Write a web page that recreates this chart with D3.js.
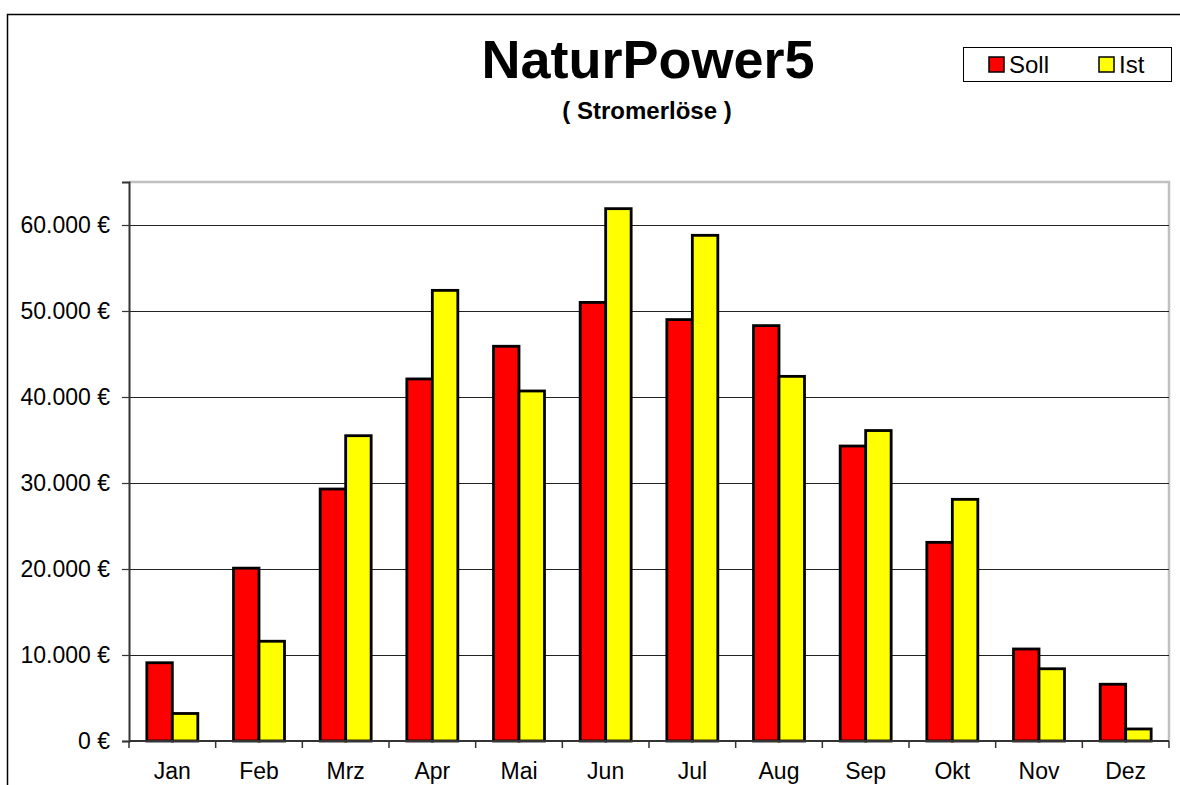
<!DOCTYPE html>
<html>
<head>
<meta charset="utf-8">
<script src="https://cdn.jsdelivr.net/npm/d3@7"></script>
<style>
  html, body { margin: 0; padding: 0; background: #fff; overflow: hidden; }
  svg { display: block; font-family: 'Liberation Sans', Arial, sans-serif; }
</style>
</head>
<body>
<script>
// Monatswerte Stromerloese (Euro)
var months = ['Jan', 'Feb', 'Mrz', 'Apr', 'Mai', 'Jun', 'Jul', 'Aug', 'Sep', 'Okt', 'Nov', 'Dez'];
var soll = [9100, 20100, 29300, 42100, 45900, 51000, 49000, 48300, 34300, 23100, 10700, 6600];
var ist = [3200, 11600, 35500, 52400, 40700, 61900, 58800, 42400, 36100, 28100, 8400, 1400];
var seriesNames = ['Soll', 'Ist'];
var seriesColors = ['#ff0000', '#ffff00'];
var yTicks = [0, 10000, 20000, 30000, 40000, 50000, 60000];

(function() {
  var w = 1180;
  var h = 785;
  var plot = { left: 129, right: 1169, top: 182, bottom: 741 };

  var de = d3.formatLocale({
    decimal: ',',
    thousands: '.',
    grouping: [3],
    currency: ['', ' €']
  });
  var fmt = de.format('$,.0f');

  var rows = months.map((m, i) => ({ month: m, values: [soll[i], ist[i]] }));

  var svg = d3.select('body')
    .append('svg')
    .attr('width', w)
    .attr('height', h);

  // outer chart frame
  svg.append('rect')
    .attr('x', 7.5)
    .attr('y', 14.5)
    .attr('width', 1200)
    .attr('height', 800)
    .attr('fill', 'none')
    .attr('stroke', '#000')
    .attr('stroke-width', 1.5);

  var xScale = d3.scaleBand()
    .domain(months)
    .range([plot.left, plot.right])
    .paddingInner(0)
    .paddingOuter(0);

  var xInner = d3.scaleBand()
    .domain(seriesNames)
    .range([0, xScale.bandwidth()])
    .paddingInner(0)
    .paddingOuter(0.7);

  var yScale = d3.scaleLinear()
    .domain([0, 65000])
    .range([plot.bottom, plot.top]);

  // plot area border (top/right grey)
  svg.append('path')
    .attr('d', `M${plot.left},${plot.top}H${plot.right}V${plot.bottom}`)
    .attr('fill', 'none')
    .attr('stroke', '#c0c0c0')
    .attr('stroke-width', 2.5);

  // gridlines
  svg.append('g')
    .selectAll('line')
    .data(yTicks.filter(d => d > 0))
    .enter()
    .append('line')
    .attr('x1', plot.left)
    .attr('x2', plot.right)
    .attr('y1', d => Math.round(yScale(d)) + 0.5)
    .attr('y2', d => Math.round(yScale(d)) + 0.5)
    .attr('stroke', '#222')
    .attr('stroke-width', 1.2);

  // y axis
  var yAxis = svg.append('g')
    .attr('transform', `translate(${plot.left},0)`)
    .call(d3.axisLeft(yScale).tickValues(yTicks).tickFormat(fmt).tickSize(7).tickPadding(12));
  yAxis.select('.domain').attr('stroke', '#333').attr('stroke-width', 2);
  yAxis.selectAll('.tick line').attr('stroke', '#333').attr('stroke-width', 1.2);
  yAxis.selectAll('.tick text')
    .attr('font-size', '23px')
    .attr('font-family', "'Liberation Sans', Arial, sans-serif")
    .attr('fill', '#000');

  // bars
  var groups = svg.append('g')
    .selectAll('g')
    .data(rows)
    .enter()
    .append('g')
    .attr('transform', d => `translate(${xScale(d.month)},0)`);

  groups.selectAll('rect')
    .data(d => d.values.map((v, i) => ({ key: seriesNames[i], value: v, color: seriesColors[i] })))
    .enter()
    .append('rect')
    .attr('x', d => xInner(d.key))
    .attr('y', d => yScale(d.value))
    .attr('width', xInner.bandwidth())
    .attr('height', d => plot.bottom - yScale(d.value))
    .attr('fill', d => d.color)
    .attr('stroke', '#000')
    .attr('stroke-width', 2.8);

  // x axis with ticks between categories
  var xAxis = svg.append('g')
    .attr('transform', `translate(0,${plot.bottom})`);
  xAxis.append('line')
    .attr('x1', plot.left)
    .attr('x2', plot.right)
    .attr('stroke', '#333')
    .attr('stroke-width', 2);
  xAxis.selectAll('line.tk')
    .data(months.concat(['end']))
    .enter()
    .append('line')
    .attr('class', 'tk')
    .attr('x1', (d, i) => i < months.length ? xScale(d) : plot.right)
    .attr('x2', (d, i) => i < months.length ? xScale(d) : plot.right)
    .attr('y1', 0)
    .attr('y2', 7)
    .attr('stroke', '#333')
    .attr('stroke-width', 1.5);
  xAxis.selectAll('text')
    .data(months)
    .enter()
    .append('text')
    .attr('x', d => xScale(d) + xScale.bandwidth() / 2)
    .attr('y', 38)
    .attr('text-anchor', 'middle')
    .attr('font-size', '23px')
    .text(d => d);

  // titles
  svg.append('text')
    .attr('x', 648)
    .attr('y', 78)
    .attr('text-anchor', 'middle')
    .attr('font-size', '54px')
    .attr('font-weight', 'bold')
    .text('NaturPower5');

  svg.append('text')
    .attr('x', 647)
    .attr('y', 119)
    .attr('text-anchor', 'middle')
    .attr('font-size', '24px')
    .attr('font-weight', 'bold')
    .text('( Stromerlöse )');

  // legend
  var legend = svg.append('g');
  legend.append('rect')
    .attr('x', 963.5)
    .attr('y', 47.5)
    .attr('width', 208)
    .attr('height', 34)
    .attr('fill', '#fff')
    .attr('stroke', '#000')
    .attr('stroke-width', 1);

  var items = legend.selectAll('g')
    .data(seriesNames)
    .enter()
    .append('g')
    .attr('transform', (d, i) => `translate(${i === 0 ? 989 : 1099},57)`);
  items.append('rect')
    .attr('width', 15)
    .attr('height', 15)
    .attr('fill', (d, i) => seriesColors[i])
    .attr('stroke', '#000')
    .attr('stroke-width', 1.5);
  items.append('text')
    .attr('x', 20)
    .attr('y', 16)
    .attr('font-size', '24px')
    .text(d => d);
})();
</script>
</body>
</html>
